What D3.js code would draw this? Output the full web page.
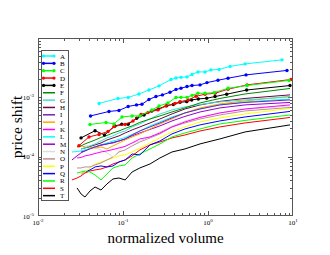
<!DOCTYPE html>
<html>
<head>
<meta charset="utf-8">
<script src="https://cdn.jsdelivr.net/npm/d3@7"></script>
<style>
  body { margin: 0; background: #fff; }
  svg { display: block; }
</style>
</head>
<body>
<div id="chart-area"></div>
<script>
// series labels, in legend order
var names = ["A","B","C","D","E","F","G","H","I","J","K","L","M","N","O","P","Q","R","S","T"];

// series A-E: each has its own volume bins (drawn with dots)
var volA = [0.0523, 0.0873, 0.115, 0.154, 0.202, 0.266, 0.367, 0.420, 0.481, 0.566, 0.649, 0.762, 0.923, 1.08, 1.35, 1.82, 2.73, 7.43];
var shiftA = [7.89e-4, 9.58e-4, 9.96e-4, 1.14e-3, 1.33e-3, 1.56e-3, 2.00e-3, 2.12e-3, 2.17e-3, 2.21e-3, 2.43e-3, 2.68e-3, 2.68e-3, 2.90e-3, 2.95e-3, 3.32e-3, 3.66e-3, 4.28e-3];
var volB = [0.0415, 0.0684, 0.0897, 0.115, 0.144, 0.167, 0.202, 0.244, 0.291, 0.357, 0.420, 0.481, 0.566, 0.649, 0.806, 0.973, 1.31, 1.72, 2.80, 8.50];
var shiftB = [4.86e-4, 5.78e-4, 6.01e-4, 7.02e-4, 7.45e-4, 7.65e-4, 9.22e-4, 1.03e-3, 1.10e-3, 1.22e-3, 1.36e-3, 1.42e-3, 1.52e-3, 1.58e-3, 1.62e-3, 1.77e-3, 1.94e-3, 2.10e-3, 2.39e-3, 2.84e-3];
var volC = [0.0409, 0.0631, 0.0783, 0.0973, 0.128, 0.158, 0.219, 0.266, 0.338, 0.420, 0.481, 0.566, 0.649, 0.762, 0.923, 1.18, 1.72, 2.88, 8.97];
var shiftC = [3.49e-4, 3.77e-4, 3.56e-4, 4.67e-4, 4.86e-4, 4.86e-4, 6.14e-4, 7.16e-4, 8.04e-4, 9.96e-4, 1.00e-3, 1.00e-3, 1.08e-3, 1.17e-3, 1.17e-3, 1.20e-3, 1.42e-3, 1.58e-3, 1.93e-3];
var volD = [0.0303, 0.0398, 0.0523, 0.0667, 0.0783, 0.106, 0.131, 0.163, 0.197, 0.258, 0.321, 0.409, 0.469, 0.582, 0.723, 0.923, 1.21, 1.72, 2.88, 9.47];
var shiftD = [1.53e-4, 2.15e-4, 2.37e-4, 2.66e-4, 3.23e-4, 3.49e-4, 4.00e-4, 5.15e-4, 5.56e-4, 6.14e-4, 7.16e-4, 7.89e-4, 8.46e-4, 9.04e-4, 1.04e-3, 1.13e-3, 1.17e-3, 1.37e-3, 1.62e-3, 2.00e-3];
var volE = [0.0321, 0.0469, 0.0606, 0.0805, 0.0966, 0.115, 0.145, 0.177, 0.218, 0.260, 0.327, 0.391, 0.469, 0.562, 0.643, 0.769, 0.965, 1.21, 1.66, 2.85, 9.22];
var shiftE = [2.07e-4, 2.74e-4, 2.32e-4, 3.29e-4, 3.52e-4, 3.52e-4, 4.44e-4, 5.05e-4, 5.90e-4, 6.37e-4, 7.24e-4, 7.59e-4, 8.27e-4, 8.46e-4, 9.04e-4, 9.40e-4, 9.66e-4, 1.03e-3, 1.13e-3, 1.33e-3, 1.58e-3];

// series F-T share one volume grid (null = no point)
var volumes = [0.0251, 0.0288, 0.0321, 0.0357, 0.0409, 0.0469, 0.0551, 0.0648, 0.0763, 0.0897, 0.106, 0.128, 0.158, 0.208, 0.272, 0.377, 0.536, 0.806, 1.38, 2.73, 9.22];
var shiftF = [null, 1.46e-4, 1.52e-4, 1.64e-4, 1.77e-4, 1.91e-4, 2.11e-4, 2.28e-4, 2.51e-4, 2.71e-4, 2.99e-4, 3.30e-4, 3.78e-4, 4.32e-4, 4.86e-4, 5.67e-4, 6.63e-4, 8.05e-4, 9.58e-4, 1.14e-3, 1.41e-3];
var shiftG = [null, null, 1.35e-4, 1.40e-4, 1.52e-4, 1.64e-4, 1.84e-4, 2.07e-4, 2.24e-4, 2.51e-4, 2.71e-4, 3.17e-4, 3.56e-4, 4.32e-4, 5.25e-4, 6.13e-4, 6.89e-4, 7.59e-4, 8.37e-4, 9.04e-4, 1.02e-3];
var shiftH = [null, null, 1.35e-4, 1.40e-4, 1.49e-4, 1.58e-4, 1.70e-4, 1.91e-4, 2.07e-4, 2.24e-4, 2.51e-4, 2.82e-4, 3.17e-4, 3.70e-4, 4.32e-4, 5.25e-4, 6.37e-4, 7.45e-4, 8.53e-4, 9.58e-4, 1.10e-3];
var shiftI = [null, null, 1.20e-4, 1.25e-4, 1.35e-4, 1.46e-4, 1.58e-4, 1.64e-4, 1.70e-4, 1.84e-4, 1.99e-4, 2.32e-4, 2.71e-4, 3.17e-4, 3.70e-4, 4.50e-4, 5.46e-4, 6.37e-4, 7.45e-4, 8.20e-4, 9.04e-4];
var shiftJ = [null, 1.46e-4, 1.52e-4, 1.46e-4, 1.40e-4, 1.40e-4, 1.46e-4, 1.35e-4, 1.52e-4, 1.70e-4, 1.91e-4, 2.15e-4, 2.42e-4, 2.93e-4, 3.56e-4, 4.32e-4, 5.46e-4, 6.63e-4, 7.74e-4, 8.70e-4, 1.04e-3];
var shiftK = [null, 9.51e-5, 9.70e-5, 1.03e-4, 1.07e-4, 1.13e-4, 1.20e-4, 1.25e-4, 1.32e-4, 1.40e-4, 1.49e-4, 1.70e-4, 1.99e-4, 2.15e-4, 2.51e-4, 3.17e-4, 3.85e-4, 4.58e-4, 5.46e-4, 6.37e-4, 7.45e-4];
var shiftL = [1.20e-4, 1.22e-4, 1.25e-4, 1.30e-4, 1.38e-4, 1.46e-4, 1.58e-4, 1.70e-4, 1.84e-4, 1.95e-4, 2.11e-4, 2.37e-4, 2.71e-4, 3.30e-4, 3.85e-4, 4.67e-4, 5.46e-4, 6.37e-4, 7.45e-4, 8.37e-4, 9.40e-4];
var shiftM = [8.80e-5, 1.03e-4, 1.16e-4, 1.25e-4, 1.38e-4, 1.46e-4, 1.55e-4, 1.64e-4, 1.74e-4, 1.84e-4, 1.99e-4, 2.24e-4, 2.51e-4, 2.88e-4, 3.30e-4, 4.00e-4, 4.77e-4, 5.67e-4, 6.63e-4, 7.45e-4, 8.20e-4];
var shiftN = [null, null, null, 1.52e-4, 1.52e-4, 1.40e-4, 1.30e-4, 1.16e-4, 9.89e-5, 1.25e-4, 1.52e-4, 1.70e-4, 1.84e-4, 2.15e-4, 2.61e-4, 3.30e-4, 4.00e-4, 4.67e-4, 5.46e-4, 6.25e-4, 7.16e-4];
var shiftO = [null, 6.45e-5, 6.45e-5, 6.71e-5, 6.71e-5, 7.25e-5, 7.84e-5, 8.80e-5, 9.89e-5, 1.20e-4, 1.30e-4, 1.52e-4, 1.77e-4, 2.07e-4, 2.42e-4, 3.17e-4, 3.70e-4, 4.32e-4, 5.05e-4, 5.90e-4, 6.76e-4];
var shiftP = [null, null, 5.11e-5, 5.52e-5, 6.45e-5, 7.54e-5, 8.15e-5, 8.80e-5, 9.51e-5, 1.03e-4, 1.07e-4, 1.20e-4, 1.40e-4, 1.70e-4, 2.07e-4, 2.61e-4, 3.17e-4, 3.85e-4, 4.50e-4, 5.25e-4, 6.50e-4];
var shiftQ = [null, null, 5.11e-5, 5.52e-5, 5.97e-5, 6.71e-5, 6.97e-5, 6.71e-5, 6.97e-5, 8.15e-5, 8.80e-5, 1.11e-4, 1.07e-4, 1.58e-4, 1.84e-4, 2.42e-4, 2.93e-4, 3.43e-4, 4.00e-4, 4.67e-4, 5.79e-4];
var shiftR = [null, 5.31e-5, 5.52e-5, 5.74e-5, 5.52e-5, 4.92e-5, 4.05e-5, 5.11e-5, 6.45e-5, 6.97e-5, 7.25e-5, 9.51e-5, 1.11e-4, 1.35e-4, 1.64e-4, 2.15e-4, 2.51e-4, 2.93e-4, 3.56e-4, 4.08e-4, 5.05e-4];
var shiftS = [4.05e-5, 4.37e-5, 4.73e-5, 5.31e-5, 5.74e-5, 5.97e-5, 6.21e-5, 6.71e-5, 7.54e-5, 8.15e-5, 8.80e-5, 1.03e-4, 1.30e-4, 1.58e-4, 1.77e-4, 2.07e-4, 2.32e-4, 2.71e-4, 3.17e-4, 3.70e-4, 4.58e-4];
var shiftT = [null, 2.97e-5, 2.35e-5, 2.09e-5, 2.64e-5, 3.08e-5, 2.74e-5, 3.47e-5, 4.21e-5, 4.37e-5, 4.05e-5, 5.52e-5, 6.45e-5, 7.54e-5, 9.51e-5, 1.20e-4, 1.35e-4, 1.64e-4, 1.99e-4, 2.61e-4, 3.43e-4];

// xmgrace-like colours
var colors = ["#00ffff","#0000ff","#00ff00","#ff0000","#000000",
              "#008b00","#40e0d0","#670748","#7221bc","#ffa500",
              "#ff00ff","#00ffff","#9400d3","#dcdcdc","#bc8f8f",
              "#ffff00","#0000ff","#00ff00","#ff0000","#000000"];

var xTicks = [1e-2, 1e-1, 1e0, 1e1];
var xTickExp = ["-2", "-1", "0", "1"];
var yTicks = [1e-5, 1e-4, 1e-3];
var yTickExp = ["-5", "-4", "-3"];

var width = 330, height = 255;
var plotL = 38, plotR = 293, plotT = 38, plotB = 216;
var serif = "'Liberation Serif', 'Times New Roman', serif";

var svg = d3.select("#chart-area").append("svg")
  .attr("width", width)
  .attr("height", height)
  .attr("font-family", serif);

var x = d3.scaleLog().domain([1e-2, 1e1]).range([plotL, plotR]);
var y = d3.scaleLog().domain([1e-5, 1e-2]).range([plotB, plotT]);

// build series list
var series = [
  {vol: volA, val: shiftA, dots: true},
  {vol: volB, val: shiftB, dots: true},
  {vol: volC, val: shiftC, dots: true},
  {vol: volD, val: shiftD, dots: true},
  {vol: volE, val: shiftE, dots: true},
  {vol: volumes, val: shiftF}, {vol: volumes, val: shiftG}, {vol: volumes, val: shiftH},
  {vol: volumes, val: shiftI}, {vol: volumes, val: shiftJ}, {vol: volumes, val: shiftK},
  {vol: volumes, val: shiftL}, {vol: volumes, val: shiftM}, {vol: volumes, val: shiftN},
  {vol: volumes, val: shiftO}, {vol: volumes, val: shiftP}, {vol: volumes, val: shiftQ},
  {vol: volumes, val: shiftR}, {vol: volumes, val: shiftS}, {vol: volumes, val: shiftT}
];
series.forEach((s, i) => {
  s.name = names[i];
  s.color = colors[i];
  s.points = s.vol.map((v, j) => [v, s.val[j]]);
});

// minor tick positions 2..9 per decade
var xMinor = [];
[1e-2, 1e-1, 1e0].forEach((d) => {
  for (var m = 2; m <= 9; m++) xMinor.push(d * m);
});
var yMinor = [];
[1e-5, 1e-4, 1e-3].forEach((d) => {
  for (var m = 2; m <= 9; m++) yMinor.push(d * m);
});

var axisColor = "#555";
var g = svg.append("g").attr("stroke", axisColor).attr("stroke-width", 1);

// ticks point inward on all four sides
function tickX(vals, len) {
  vals.forEach((v) => {
    var px = Math.round(x(v)) + 0.5;
    g.append("line").attr("x1", px).attr("x2", px).attr("y1", plotB).attr("y2", plotB - len);
    g.append("line").attr("x1", px).attr("x2", px).attr("y1", plotT).attr("y2", plotT + len);
  });
}
function tickY(vals, len) {
  vals.forEach((v) => {
    var py = Math.round(y(v)) + 0.5;
    g.append("line").attr("y1", py).attr("y2", py).attr("x1", plotL).attr("x2", plotL + len);
    g.append("line").attr("y1", py).attr("y2", py).attr("x1", plotR).attr("x2", plotR - len);
  });
}
tickX([1e-1, 1e0], 5);
tickX(xMinor, 3);
tickY([1e-4, 1e-3], 5);
tickY(yMinor, 3);

// lines
var line = d3.line()
  .defined((d) => d[1] != null)
  .x((d) => x(d[0]))
  .y((d) => y(d[1]));

var plot = svg.append("g");
series.slice().reverse().forEach((s) => {
  plot.append("path")
    .attr("d", line(s.points))
    .attr("fill", "none")
    .attr("stroke", s.color)
    .attr("stroke-width", 1);
  if (s.dots) {
    plot.selectAll(null).data(s.points).enter()
      .append("circle")
      .attr("cx", (d) => x(d[0]))
      .attr("cy", (d) => y(d[1]))
      .attr("r", 1.7)
      .attr("fill", s.color);
  }
});

// frame
svg.append("rect")
  .attr("x", plotL + 0.5).attr("y", plotT + 0.5)
  .attr("width", plotR - plotL - 1).attr("height", plotB - plotT - 1)
  .attr("fill", "none").attr("stroke", axisColor);

// tick labels with superscripts
xTicks.forEach((v, i) => {
  var t = svg.append("text")
    .attr("x", x(v)).attr("y", 225)
    .attr("text-anchor", "middle")
    .attr("font-size", 7);
  t.append("tspan").text("10");
  t.append("tspan").attr("font-size", 5).attr("dy", -3).text(xTickExp[i]);
});
yTicks.forEach((v, i) => {
  var t = svg.append("text")
    .attr("x", 34).attr("y", y(v) + 2.5)
    .attr("text-anchor", "end")
    .attr("font-size", 7);
  t.append("tspan").text("10");
  t.append("tspan").attr("font-size", 5).attr("dy", -3).text(yTickExp[i]);
});

// axis titles
svg.append("text")
  .attr("transform", "translate(22," + ((plotT + plotB) / 2) + ") rotate(-90)")
  .attr("text-anchor", "middle")
  .attr("font-size", 15.5)
  .text("price shift");
svg.append("text")
  .attr("x", (plotL + plotR) / 2).attr("y", 243)
  .attr("text-anchor", "middle")
  .attr("font-size", 15)
  .text("normalized volume");

// legend
var legend = svg.append("g");
legend.append("rect")
  .attr("x", 41.5).attr("y", 50.5)
  .attr("width", 27).attr("height", 150)
  .attr("fill", "white").attr("stroke", axisColor);
series.forEach((s, i) => {
  var ly = 56 + i * 7.35;
  legend.append("line")
    .attr("x1", 43).attr("x2", 55).attr("y1", ly).attr("y2", ly)
    .attr("stroke", s.color).attr("stroke-width", 1.5);
  if (s.dots) {
    [43.5, 54].forEach((cx) => {
      legend.append("circle").attr("cx", cx).attr("cy", ly).attr("r", 1.6).attr("fill", s.color);
    });
  }
  legend.append("text")
    .attr("x", 60).attr("y", ly + 2.5)
    .attr("font-size", 7)
    .text(s.name);
});
</script>
</body>
</html>
